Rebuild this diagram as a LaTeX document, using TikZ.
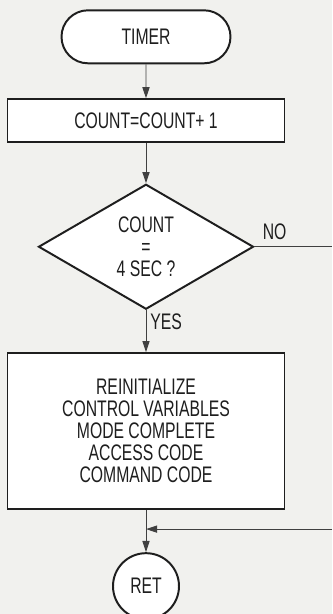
\documentclass[tikz,border=0pt]{standalone}
\usepackage{fontspec}
\setmainfont{Liberation Sans}[FakeStretch=0.7]
\usepackage{tikz}
\usetikzlibrary{shapes.geometric,shapes.misc,arrows.meta,positioning,calc}
\definecolor{paper}{RGB}{241,241,238}
\definecolor{ink}{RGB}{30,30,30}

\begin{document}
\begin{tikzpicture}[
  font=\fontsize{16}{15.6}\selectfont, text=ink,
  base/.style={draw=ink, line width=1.4pt, fill=white, align=center, inner sep=0pt},
  term/.style={base, rounded rectangle, minimum width=4.225cm, minimum height=1.325cm},
  proc/.style={base, rectangle, minimum width=6.925cm},
  test/.style={base, diamond, minimum width=5.375cm, minimum height=3.125cm},
  stop/.style={base, circle, minimum size=1.65cm},
  flow/.style={draw=ink!85, line width=0.7pt},
  ar/.style={flow, -{Triangle[length=2.8mm,width=1.8mm]}}]
  \useasboundingbox[fill=paper] (0,0) rectangle (8.3,-15.35);
  \node[term] (timer) at (3.65,-0.92) {TIMER};
  \node[proc, minimum height=1.075cm, below=0.85cm of timer] (incr) {COUNT=COUNT+ 1};
  \node[test, below=1.0cm of incr] (check) {COUNT\\=\\4 SEC ?};
  \node[proc, minimum height=3.9cm, below=1.05cm of check] (reinit)
       {REINITIALIZE\\CONTROL VARIABLES\\MODE COMPLETE\\ACCESS CODE\\COMMAND CODE};
  \node[stop, below=1.05cm of reinit] (ret) {RET};
  \coordinate (redge) at (8.3,0);
  \coordinate (noend) at (redge |- check.east);
  \coordinate (join) at ($(reinit.south)!0.45!(ret.north)$);
  \coordinate (retin) at (redge |- join);
  \foreach \i/\j in {timer/incr, incr/check, check/reinit, reinit/ret} \draw[ar] (\i) -- (\j);
  \draw[flow] (check.east) -- (noend);
  \draw[ar] (retin) -- (join);
  \node[above right=1.8mm and 2mm of check.east, inner sep=0pt] (no) {NO};
  \node[below right=0.8mm and 1mm of check.south, inner sep=0pt] (yes) {YES};
\end{tikzpicture}
\end{document}
